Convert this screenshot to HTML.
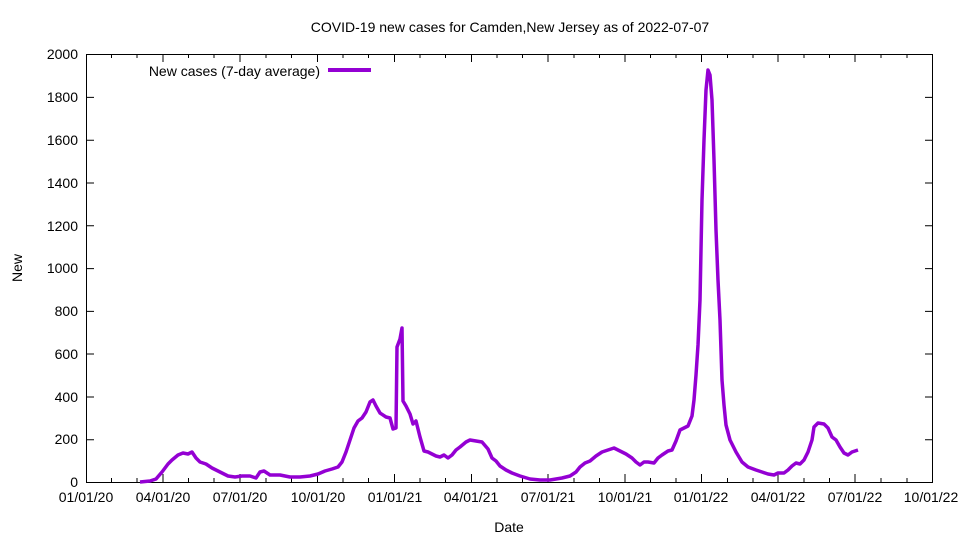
<!DOCTYPE html>
<html><head><meta charset="utf-8"><style>
body{margin:0;background:#fff}
svg text{font-family:"Liberation Sans",Arial,sans-serif;font-size:14px;fill:#000}
</style></head><body>
<svg width="960" height="540" viewBox="0 0 960 540" xmlns="http://www.w3.org/2000/svg">
<rect width="960" height="540" fill="#fff"/>
<text x="510" y="32" text-anchor="middle">COVID-19 new cases for Camden,New Jersey as of 2022-07-07</text>
<g stroke="#000" stroke-width="1" fill="none">
<rect x="86.5" y="54.5" width="846" height="428"/>
<path d="M86 439.7h8M86 397h8M86 354h8M86 311.4h8M86 268.6h8M86 225.8h8M86 183h8M86 140.2h8M86 97.4h8
M933 439.7h-8M933 397h-8M933 354h-8M933 311.4h-8M933 268.6h-8M933 225.8h-8M933 183h-8M933 140.2h-8M933 97.4h-8"/>
<path d="M163 482v-8M240 482v-8M317.5 482v-8M394.5 482v-8M471.5 482v-8M548 482v-8M625 482v-8M701.5 482v-8M778 482v-8M855 482v-8
M163 54v8M240 54v8M317.5 54v8M394.5 54v8M471.5 54v8M548 54v8M625 54v8M701.5 54v8M778 54v8M855 54v8
M111.5 482v-4M137 482v-4M188.5 482v-4M214 482v-4M266 482v-4M291.5 482v-4M343 482v-4M368.5 482v-4M420 482v-4M445.5 482v-4M497 482v-4M522.5 482v-4M574 482v-4M599.5 482v-4M650.5 482v-4M676 482v-4M727.5 482v-4M753 482v-4M804 482v-4M829.5 482v-4M881 482v-4M907 482v-4
M111.5 54v4M137 54v4M188.5 54v4M214 54v4M266 54v4M291.5 54v4M343 54v4M368.5 54v4M420 54v4M445.5 54v4M497 54v4M522.5 54v4M574 54v4M599.5 54v4M650.5 54v4M676 54v4M727.5 54v4M753 54v4M804 54v4M829.5 54v4M881 54v4M907 54v4"/>
</g>
<g text-anchor="end">
<text x="78" y="487">0</text><text x="78" y="444">200</text><text x="78" y="402">400</text><text x="78" y="359">600</text><text x="78" y="316">800</text><text x="78" y="273">1000</text><text x="78" y="231">1200</text><text x="78" y="188">1400</text><text x="78" y="145">1600</text><text x="78" y="102">1800</text><text x="78" y="59">2000</text>
</g>
<g text-anchor="middle">
<text x="86" y="502">01/01/20</text><text x="163" y="502">04/01/20</text><text x="240" y="502">07/01/20</text><text x="318" y="502">10/01/20</text><text x="395" y="502">01/01/21</text><text x="471" y="502">04/01/21</text><text x="548" y="502">07/01/21</text><text x="625" y="502">10/01/21</text><text x="701" y="502">01/01/22</text><text x="778" y="502">04/01/22</text><text x="855" y="502">07/01/22</text><text x="931" y="502">10/01/22</text>
<text x="509" y="532">Date</text>
</g>
<text transform="translate(22,268) rotate(-90)" text-anchor="middle">New</text>
<text x="320" y="76" text-anchor="end">New cases (7-day average)</text>
<line x1="328" y1="70" x2="371" y2="70" stroke="#9400d3" stroke-width="4"/>
<polyline fill="none" stroke="#9400d3" stroke-width="3.5" stroke-linejoin="round" points="140,482 150,481 156,479 162,472 168,464 172,460 178,455 183,453 188,454 192,452 196,458 200,462 206,464 212,468 220,472 228,476 235,477 242,476 250,476 256,478 260,472 264,471 270,475 280,475 290,477 300,477 310,476 318,474 325,471 332,469 338,467 342,462 346,452 350,440 354,428 358,421 362,418 366,412 370,402 373,400 376,406 380,413 386,417 390,418 393,429 396,428 397,347 400,339 402,328 403,401 406,406 410,414 413,424 416,421 420,437 424,451 428,452 432,454 436,456 440,457 444,455 448,458 452,455 456,450 460,447 466,442 470,440 476,441 482,442 488,449 492,458 496,461 500,466 506,470 512,473 520,476 530,479 540,480 550,480 556,479 562,478 570,476 576,472 580,467 585,463 590,461 596,456 602,452 608,450 614,448 620,451 626,454 632,458 636,462 640,465 644,462 648,462 654,463 658,458 662,455 668,451 672,450 676,441 680,430 684,428 688,426 692,416 694,400 696,375 698,345 700,300 702,200 704,140 706,90 708,70 710,75 712,100 714,160 716,230 718,280 720,320 722,380 724,405 726,425 730,440 736,452 742,462 748,467 756,470 762,472 768,474 774,475 778,473 784,473 788,470 792,466 796,463 800,464 804,460 808,452 812,440 814,427 818,423 824,424 828,428 832,437 836,440 840,447 844,453 848,455 852,452 858,450"/>
</svg>
</body></html>
